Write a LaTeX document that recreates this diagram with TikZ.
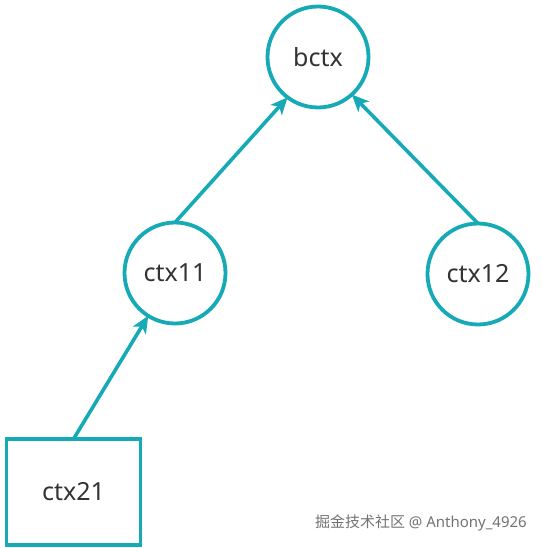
\documentclass[tikz,border=0pt]{standalone}
\usepackage{fontspec}
\setmainfont{Noto Sans}
\newfontfamily\cjkfont{Noto Sans CJK SC}
\usetikzlibrary{arrows.meta}
\definecolor{teal1}{HTML}{16A9B6}
\definecolor{txt}{HTML}{333333}
\begin{document}
\begin{tikzpicture}[x=1pt,y=-1pt,
  circnode/.style={circle,draw=teal1,line width=3.8pt,minimum size=101pt,inner sep=0pt,outer sep=0pt,text=txt,font=\fontsize{25}{28}\selectfont},
  boxnode/.style={rectangle,draw=teal1,line width=3.8pt,minimum width=134pt,minimum height=106pt,inner sep=0pt,outer sep=0pt,text=txt,font=\fontsize{25}{28}\selectfont},
  link/.style={draw=teal1,line width=3.6pt,-{Stealth[length=17pt,width=15pt,inset=4.5pt]}}]
\useasboundingbox (0,0) rectangle (541,548);
\node[circnode] (bctx) at (318,57) {bctx};
\node[circnode] (ctx11) at (175,273) {ctx11};
\node[circnode] (ctx12) at (478,274) {ctx12};
\node[boxnode] (ctx21) at (73.5,492) {ctx21};
\draw[link] (ctx11.north) -- (bctx.233);
\draw[link] (ctx12.north) -- (bctx.312);
\draw[link] (ctx21.north) -- (ctx11.238);
\node[anchor=east,text=black!55,font=\fontsize{15}{17}\selectfont,inner sep=0pt] (wm) at (527,523) {{\cjkfont 掘金技术社区} @ Anthony\_4926};
\end{tikzpicture}
\end{document}
